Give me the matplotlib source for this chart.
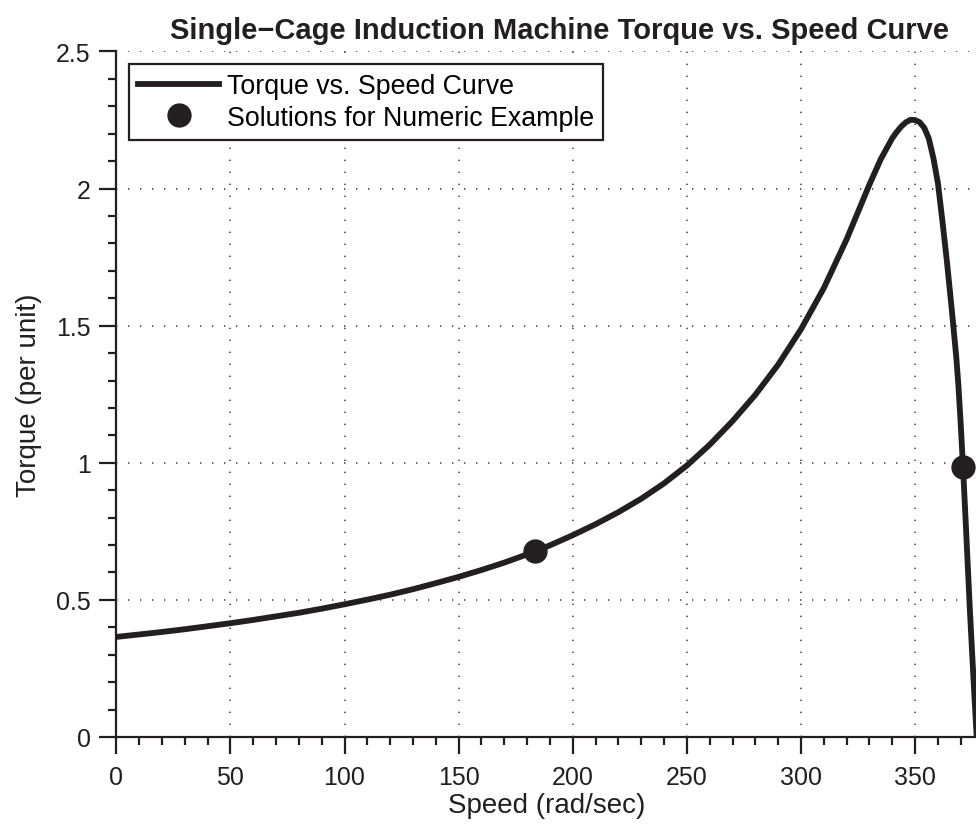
import matplotlib
matplotlib.use("Agg")
import matplotlib.pyplot as plt
from matplotlib.ticker import MultipleLocator

plt.rcParams['font.family'] = ['Liberation Sans', 'DejaVu Sans']

# Data
speed = [0, 10, 20, 30, 40, 50, 60, 70, 80, 90, 100, 110, 120, 130, 140, 150,
         160, 170, 180, 190, 200, 210, 220, 230, 240, 250, 260, 270, 280, 290,
         300, 310, 320, 325, 330, 335, 340, 342, 344, 346, 348, 350, 352, 354,
         356, 358, 360, 362, 364, 366, 368, 369, 370, 371, 372, 373, 374, 375,
         376, 376.99]
torque = [0.365, 0.374, 0.383, 0.393, 0.404, 0.415, 0.427, 0.440, 0.453, 0.468,
          0.484, 0.501, 0.519, 0.539, 0.561, 0.584, 0.609, 0.636, 0.666, 0.699,
          0.736, 0.776, 0.820, 0.869, 0.925, 0.990, 1.066, 1.152, 1.248, 1.358,
          1.487, 1.637, 1.815, 1.915, 2.015, 2.108, 2.184, 2.207, 2.227, 2.242,
          2.251, 2.250, 2.242, 2.222, 2.183, 2.112, 2.020, 1.880, 1.730, 1.565,
          1.390, 1.280, 1.140, 0.985, 0.815, 0.640, 0.465, 0.305, 0.150, 0.0]
sol_speed = [183.5, 371.0]
sol_torque = [0.68, 0.985]

xticks = [0, 50, 100, 150, 200, 250, 300, 350]
yticks = [0, 0.5, 1, 1.5, 2, 2.5]
ytick_labels = ['0', '0.5', '1', '1.5', '2', '2.5']

ink = '#231f20'

fig = plt.figure(figsize=(9.76, 8.28), dpi=100)
ax = fig.add_axes([0.1192, 0.1087, 0.8815, 0.8279])

ax.plot(speed, torque, color=ink, lw=4.2, label='Torque vs. Speed Curve',
        solid_joinstyle='round', zorder=3)
ax.plot(sol_speed, sol_torque, 'o', color=ink, ms=16.5, ls='none',
        label='Solutions for Numeric Example', zorder=4)

ax.set_xlim(0, 376.99)
ax.set_ylim(0, 2.5)
ax.set_xticks(xticks)
ax.set_yticks(yticks)
ax.set_yticklabels(ytick_labels)
ax.xaxis.set_minor_locator(MultipleLocator(10))
ax.yaxis.set_minor_locator(MultipleLocator(0.1))

for s in ['top', 'right']:
    ax.spines[s].set_visible(False)
for s in ['left', 'bottom']:
    ax.spines[s].set_linewidth(1.6)
    ax.spines[s].set_color(ink)

ax.tick_params(which='major', direction='out', length=12, width=1.6,
               labelsize=18, color=ink, labelcolor=ink)
ax.tick_params(axis='x', which='major', pad=8)
ax.tick_params(axis='y', which='major', pad=6.5)
ax.tick_params(which='minor', direction='out', length=6, width=1.6, color=ink)

ax.grid(True, which='major', color='#444444', lw=1.2, ls=(0, (0.8, 6.4)))
ax.set_axisbelow(True)

ax.set_xlabel('Speed (rad/sec)', fontsize=20, color=ink, labelpad=2)
ax.set_ylabel('Torque (per unit)', fontsize=20, color=ink, labelpad=10)
ax.set_title('Single\u2212Cage Induction Machine Torque vs. Speed Curve',
             fontsize=21, fontweight='bold', color=ink, pad=10, x=0.515)

leg = ax.legend(loc='upper left', bbox_to_anchor=(0.0148, 0.982), fontsize=19.3,
                frameon=True, fancybox=False, framealpha=1, edgecolor=ink,
                handlelength=3.0, borderpad=0.35, labelspacing=0.2,
                handletextpad=0.3, borderaxespad=0)
leg.get_frame().set_linewidth(1.6)

fig.savefig('out.png', dpi=100)
